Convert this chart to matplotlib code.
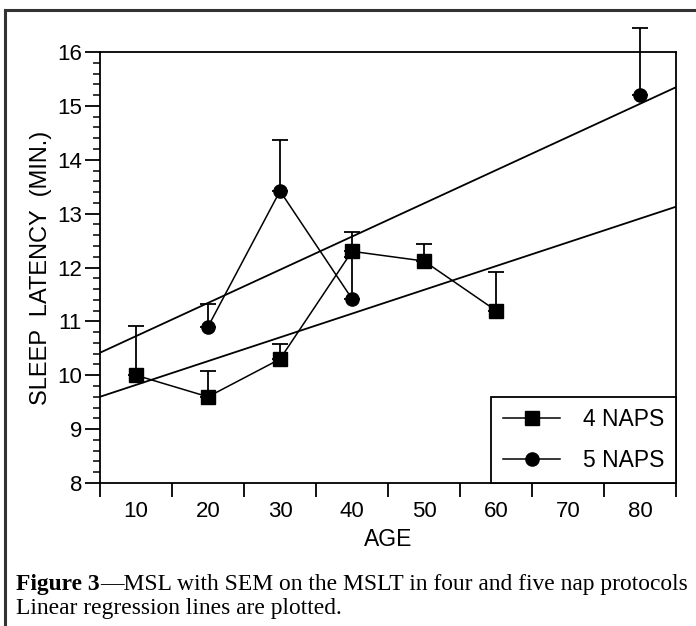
import numpy as np
import matplotlib.pyplot as plt
from matplotlib.lines import Line2D

## Data
age4 = [10, 20, 30, 40, 50, 60]
msl4 = [10.0, 9.6, 10.3, 12.3, 12.12, 11.2]
sem4 = [0.92, 0.47, 0.28, 0.35, 0.31, 0.72]

age5 = [20, 30, 40, 80]
msl5 = [10.9, 13.42, 11.42, 15.2]
sem5 = [0.42, 0.95, 0.78, 1.25]

## Regression lines (intercept, slope)
reg4 = [9.38, 0.0441]
reg5 = [10.11, 0.0616]

xticklabels = ['10', '20', '30', '40', '50', '60', '70', '80']

plt.rcParams['font.family'] = ['Liberation Sans', 'DejaVu Sans']

fig = plt.figure(figsize=(6.96, 6.26), dpi=100)
ax = fig.add_axes([100/696, 1-483/626, 576/696, 431/626])


## connect only neighbouring decades (no line across missing ages)
def plot_series(ax, x, y, e, marker, z):
    x = np.asarray(x, float)
    y = np.asarray(y, float)
    start = 0
    for i in range(1, len(x)+1):
        if i == len(x) or x[i]-x[i-1] > 10:
            ax.plot(x[start:i], y[start:i], color='black', lw=1.1, zorder=z)
            start = i
    eb = ax.errorbar(x, y, yerr=[np.zeros(len(e)), e], fmt=marker, color='black',
                     ms=9.5, elinewidth=1.3, capsize=6, capthick=1.3, zorder=z)
    for a in eb.get_children():
        a.set_clip_on(False)


## regression lines
xr = np.array([5, 85])
ax.plot(xr, reg4[0]+reg4[1]*xr, color='black', lw=1.3, zorder=2)
ax.plot(xr, reg5[0]+reg5[1]*xr, color='black', lw=1.3, zorder=2)

plot_series(ax, age5, msl5, sem5, 'o', 3)
plot_series(ax, age4, msl4, sem4, 's', 4)

ax.set_xlim(5, 85)
ax.set_ylim(8, 16)

ax.set_xticks(np.arange(5, 86, 10))
ax.set_xticklabels([])
ax.set_xticks(np.arange(10, 81, 10), minor=True)
ax.set_xticklabels(xticklabels, minor=True)
ax.tick_params(axis='x', which='major', length=10, width=1.3, direction='out')
ax.tick_params(axis='x', which='minor', length=0, pad=13, labelsize=16)

ax.set_yticks(np.arange(8, 17, 1))
ax.set_yticks(np.arange(8, 16.01, 0.2), minor=True)
ax.tick_params(axis='y', which='major', length=11, width=1.3, labelsize=16, pad=2)
ax.tick_params(axis='y', which='minor', length=5, width=1.1)

for s in ax.spines.values():
    s.set_linewidth(1.3)

ax.set_xlabel('AGE', fontsize=16.5, labelpad=4)
ax.set_ylabel('SLEEP  LATENCY  (MIN.)', fontsize=17, labelpad=4)

## legend
h4 = Line2D([], [], color='black', marker='s', ms=9.5, lw=1.1)
h5 = Line2D([], [], color='black', marker='o', ms=9.5, lw=1.1)
leg = ax.legend([h4, h5], ['4 NAPS', '5 NAPS'], loc='lower right', fontsize=16.5,
                fancybox=False, framealpha=1, edgecolor='black', borderaxespad=0,
                handlelength=2.5, handletextpad=1.0, labelspacing=0.75,
                borderpad=0.5)
leg.get_frame().set_linewidth(1.3)

## outer frame of the figure panel
fig.add_artist(Line2D([5/696, 1], [1-10/626, 1-10/626], color='#333333', lw=2.2))
fig.add_artist(Line2D([5/696, 5/696], [0, 1-10/626], color='#333333', lw=2.2))

## caption: bold figure number, then the rest right after it
y1 = 1-590/626
bold = fig.text(16/696, y1, 'Figure 3', fontsize=16.9, family='Liberation Serif',
                fontweight='bold', va='baseline')
fig.canvas.draw()
bb = bold.get_window_extent()
fig.text(bb.x1/fig.bbox.width, y1,
         '\u2014MSL with SEM on the MSLT in four and five nap protocols',
         fontsize=16.9, family='Liberation Serif', va='baseline')
fig.text(16/696, 1-614/626, 'Linear regression lines are plotted.', fontsize=16.9,
         family='Liberation Serif', va='baseline')

fig.savefig('out.png', dpi=100)
